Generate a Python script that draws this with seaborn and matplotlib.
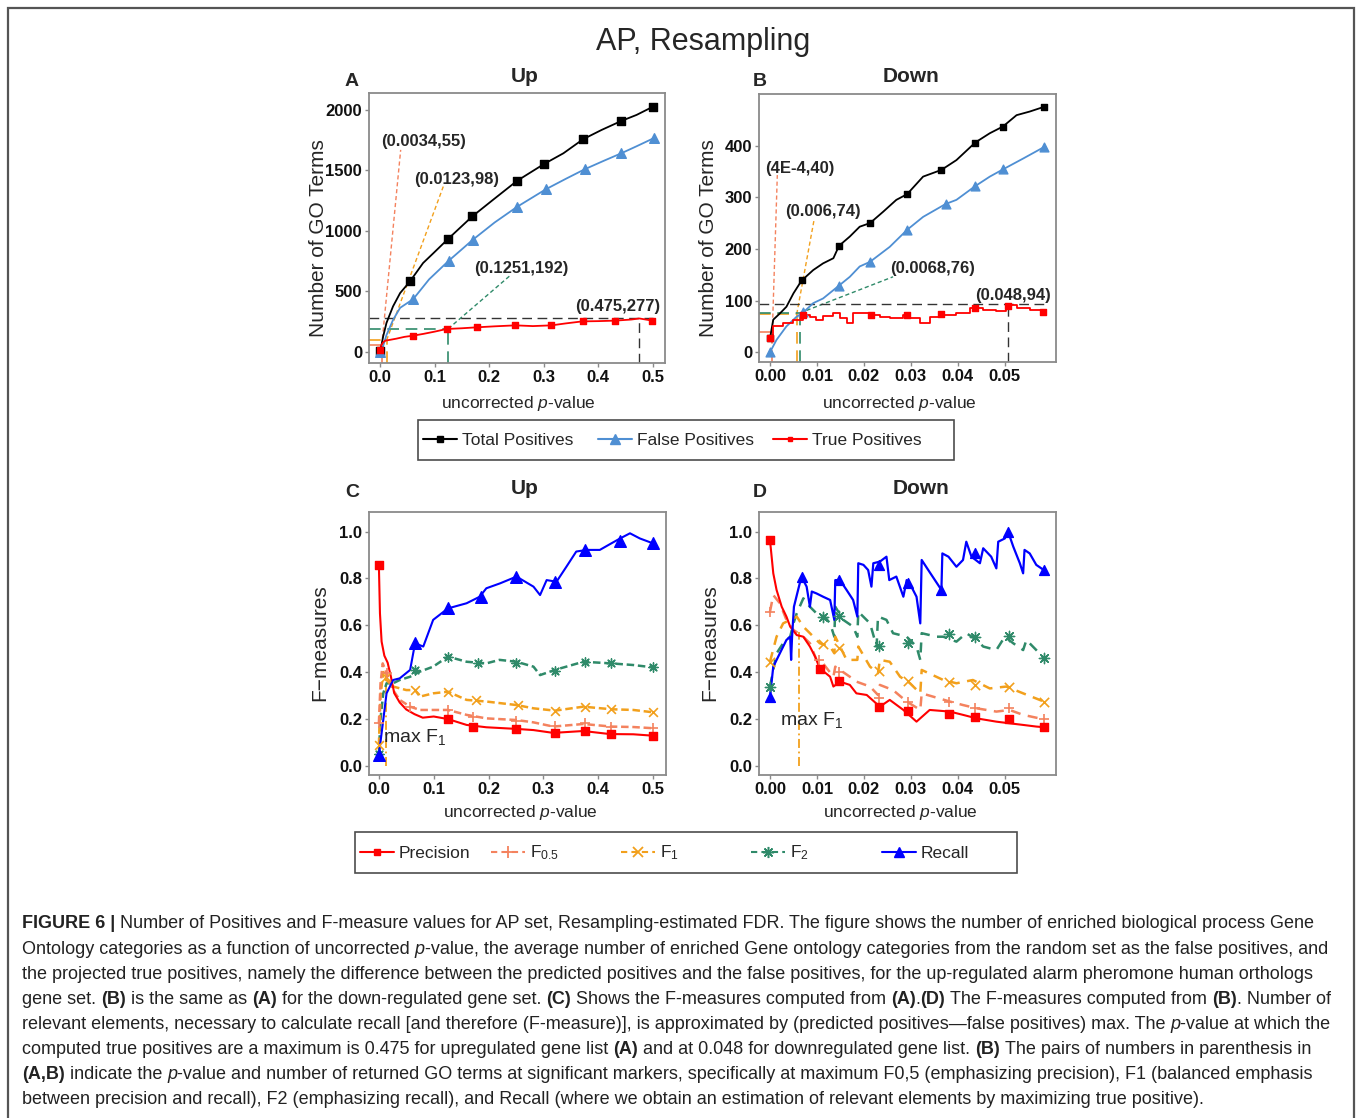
import re
import matplotlib
matplotlib.use("Agg")
import matplotlib.pyplot as plt
from matplotlib import font_manager
from matplotlib.lines import Line2D
from matplotlib.patches import Rectangle
import seaborn as sns

sns.set_theme(style="white")
plt.rcParams["font.family"] = ["Liberation Sans", "DejaVu Sans"]
plt.rcParams["mathtext.fontset"] = "custom"
plt.rcParams["mathtext.rm"] = "Liberation Sans"
plt.rcParams["mathtext.it"] = "Liberation Sans:italic"
plt.rcParams["mathtext.bf"] = "Liberation Sans:bold"

# ------------------------------------------------------------------ data
# Panel A (Up): number of GO terms vs uncorrected p-value
a_total_x = [0.000, 0.003, 0.006, 0.012, 0.024, 0.037, 0.055, 0.079, 0.098, 0.125, 0.169, 0.207,
             0.251, 0.300, 0.336, 0.372, 0.406, 0.442, 0.470, 0.500]
a_total_y = [0, 60, 130, 240, 377, 487, 583, 735, 817, 935, 1120, 1257, 1414, 1552, 1642, 1758,
             1835, 1909, 1959, 2027]
a_total_mx = [0.000, 0.055, 0.125, 0.169, 0.251, 0.300, 0.372, 0.442, 0.500]
a_total_my = [5, 583, 935, 1120, 1414, 1552, 1758, 1909, 2027]

a_fp_x = [0.000, 0.006, 0.012, 0.024, 0.037, 0.061, 0.090, 0.126, 0.170, 0.210, 0.251, 0.304,
          0.340, 0.375, 0.410, 0.442, 0.470, 0.501]
a_fp_y = [0, 50, 140, 265, 365, 437, 600, 754, 927, 1070, 1199, 1345, 1430, 1510, 1580, 1642,
          1700, 1766]
a_fp_mx = [0.000, 0.061, 0.126, 0.170, 0.251, 0.304, 0.375, 0.442, 0.501]
a_fp_my = [0, 437, 754, 927, 1199, 1345, 1510, 1642, 1766]

a_tp_x = [0.000, 0.003, 0.006, 0.010, 0.018, 0.030, 0.045, 0.061, 0.080, 0.100, 0.122, 0.150,
          0.178, 0.210, 0.248, 0.280, 0.314, 0.340, 0.371, 0.400, 0.430, 0.460, 0.475, 0.499]
a_tp_y = [19, 60, 80, 94, 100, 110, 125, 135, 150, 168, 190, 196, 204, 212, 220, 214, 220, 236,
          253, 255, 259, 268, 277, 259]
a_tp_mx = [0.000, 0.061, 0.122, 0.178, 0.248, 0.314, 0.371, 0.430, 0.499]
a_tp_my = [19, 135, 190, 204, 220, 220, 253, 259, 259]

a_ann_x = [0.0034, 0.0123, 0.1251]
a_ann_y = [55, 98, 192]
a_ann_lab = ["(0.0034,55)", "(0.0123,98)", "(0.1251,192)"]
a_ann_txt = [(0.079, 1739), (0.140, 1428), (0.259, 693)]
a_ann_end = [(0.038, 1670), (0.116, 1367), (0.238, 630)]
a_max_x, a_max_y, a_max_lab = 0.475, 277, "(0.475,277)"
a_max_txt = (0.436, 377)

# Panel B (Down)
b_total_x = [0.0000, 0.0007, 0.0021, 0.0035, 0.0050, 0.0064, 0.0069, 0.0092, 0.0113, 0.0135,
             0.0147, 0.0170, 0.0191, 0.0213, 0.0241, 0.0269, 0.0292, 0.0326, 0.0365, 0.0397,
             0.0437, 0.0468, 0.0496, 0.0525, 0.0553, 0.0583]
b_total_y = [27, 63, 75, 88, 114, 134, 140, 159, 172, 182, 206, 224, 243, 250, 272, 295, 306,
             340, 353, 372, 406, 424, 437, 459, 466, 475]
b_total_mx = [0.0000, 0.0069, 0.0147, 0.0213, 0.0292, 0.0365, 0.0437, 0.0496, 0.0583]
b_total_my = [27, 140, 206, 250, 306, 353, 406, 437, 475]

b_fp_x = [0.0000, 0.0014, 0.0035, 0.0057, 0.0071, 0.0092, 0.0113, 0.0147, 0.0170, 0.0191,
          0.0213, 0.0255, 0.0292, 0.0326, 0.0374, 0.0397, 0.0436, 0.0468, 0.0496, 0.0539, 0.0583]
b_fp_y = [0, 24, 50, 69, 77, 95, 104, 129, 146, 166, 175, 204, 237, 262, 287, 295, 321, 340,
          354, 375, 397]
b_fp_mx = [0.0000, 0.0071, 0.0147, 0.0213, 0.0292, 0.0374, 0.0436, 0.0496, 0.0583]
b_fp_my = [0, 77, 129, 175, 237, 287, 321, 354, 397]

b_tp_x = [0.0000, 0.0007, 0.0028, 0.0050, 0.0071, 0.0085, 0.0099, 0.0113, 0.0135, 0.0149,
          0.0163, 0.0177, 0.0213, 0.0234, 0.0255, 0.0284, 0.0298, 0.0319, 0.0340, 0.0369,
          0.0397, 0.0425, 0.0454, 0.0482, 0.0503, 0.0525, 0.0553, 0.0583]
b_tp_y = [28, 50, 56, 63, 72, 69, 63, 70, 75, 66, 56, 75, 72, 69, 66, 72, 66, 56, 69, 72, 75,
          85, 82, 79, 92, 85, 82, 77]
b_tp_mx = [0.0000, 0.0071, 0.0216, 0.0291, 0.0365, 0.0437, 0.0507, 0.0581]
b_tp_my = [28, 72, 72, 72, 74, 85, 90, 77]

b_ann_x = [0.0005, 0.0057, 0.0064]
b_ann_y = [40, 74, 76]
b_ann_lab = ["(4E-4,40)", "(0.006,74)", "(0.0068,76)"]
b_ann_txt = [(0.0064, 356), (0.0113, 272), (0.0347, 163)]
b_ann_end = [(0.00156, 343), (0.0094, 257), (0.0262, 146)]
b_max_x, b_max_y, b_max_lab = 0.0507, 94, "(0.048,94)"
b_max_txt = (0.0518, 109)

# Panel C (Up): F-measures
c_prec_x = [0.000, 0.002, 0.005, 0.010, 0.016, 0.022, 0.028, 0.038, 0.050, 0.065, 0.080, 0.100,
            0.126, 0.160, 0.196, 0.251, 0.282, 0.318, 0.373, 0.421, 0.464, 0.500]
c_prec_y = [0.858, 0.650, 0.530, 0.470, 0.440, 0.380, 0.310, 0.270, 0.240, 0.220, 0.205, 0.210,
            0.199, 0.174, 0.164, 0.157, 0.152, 0.140, 0.148, 0.135, 0.134, 0.128]
c_prec_mx = [0.000, 0.126, 0.172, 0.251, 0.321, 0.376, 0.424, 0.500]
c_prec_my = [0.858, 0.199, 0.164, 0.157, 0.138, 0.150, 0.135, 0.128]

c_f05_x = [0.000, 0.003, 0.007, 0.014, 0.026, 0.038, 0.057, 0.075, 0.099, 0.126, 0.160, 0.196,
           0.251, 0.282, 0.318, 0.373, 0.424, 0.464, 0.500]
c_f05_y = [0.181, 0.350, 0.437, 0.395, 0.323, 0.281, 0.252, 0.238, 0.238, 0.238, 0.217, 0.202,
           0.195, 0.185, 0.167, 0.178, 0.167, 0.165, 0.160]
c_f05_mx = [0.000, 0.014, 0.057, 0.126, 0.172, 0.251, 0.321, 0.376, 0.424, 0.500]
c_f05_my = [0.181, 0.395, 0.252, 0.238, 0.207, 0.192, 0.170, 0.181, 0.167, 0.160]

c_f1_x = [0.000, 0.003, 0.008, 0.014, 0.026, 0.050, 0.066, 0.075, 0.099, 0.126, 0.160, 0.196,
          0.251, 0.282, 0.321, 0.373, 0.424, 0.464, 0.500]
c_f1_y = [0.088, 0.300, 0.400, 0.366, 0.338, 0.323, 0.323, 0.295, 0.309, 0.316, 0.281, 0.274,
          0.259, 0.245, 0.235, 0.252, 0.241, 0.238, 0.228]
c_f1_mx = [0.000, 0.013, 0.066, 0.126, 0.178, 0.254, 0.321, 0.376, 0.424, 0.500]
c_f1_my = [0.088, 0.380, 0.323, 0.313, 0.279, 0.259, 0.234, 0.252, 0.241, 0.228]

c_f2_x = [0.000, 0.003, 0.008, 0.014, 0.026, 0.038, 0.057, 0.075, 0.099, 0.126, 0.160, 0.196,
          0.220, 0.251, 0.282, 0.294, 0.321, 0.373, 0.424, 0.464, 0.500]
c_f2_y = [0.050, 0.200, 0.309, 0.352, 0.352, 0.366, 0.380, 0.402, 0.423, 0.466, 0.444, 0.437,
          0.452, 0.444, 0.423, 0.387, 0.409, 0.444, 0.437, 0.430, 0.420]
c_f2_mx = [0.000, 0.066, 0.126, 0.181, 0.251, 0.321, 0.376, 0.424, 0.500]
c_f2_my = [0.050, 0.410, 0.466, 0.440, 0.440, 0.406, 0.444, 0.437, 0.420]

c_rec_x = [0.000, 0.008, 0.014, 0.026, 0.038, 0.057, 0.066, 0.081, 0.099, 0.126, 0.160, 0.184,
           0.196, 0.221, 0.251, 0.282, 0.294, 0.306, 0.324, 0.342, 0.360, 0.379, 0.403, 0.424,
           0.440, 0.458, 0.476, 0.500]
c_rec_y = [0.046, 0.195, 0.309, 0.366, 0.373, 0.409, 0.523, 0.509, 0.623, 0.672, 0.694, 0.722,
           0.758, 0.779, 0.808, 0.765, 0.729, 0.793, 0.786, 0.850, 0.915, 0.922, 0.922, 0.950,
           0.971, 0.993, 0.971, 0.950]
c_rec_mx = [0.000, 0.066, 0.126, 0.187, 0.251, 0.321, 0.376, 0.440, 0.500]
c_rec_my = [0.046, 0.523, 0.672, 0.722, 0.808, 0.786, 0.922, 0.960, 0.950]
c_maxf1_x, c_maxf1_y = 0.0123, 0.40

# Panel D (Down): F-measures
d_prec_x = [0.0000, 0.0007, 0.0014, 0.0025, 0.0035, 0.0043, 0.0057, 0.0071, 0.0085, 0.0096,
            0.0106, 0.0128, 0.0135, 0.0149, 0.0170, 0.0184, 0.0206, 0.0234, 0.0255, 0.0284,
            0.0312, 0.0340, 0.0383, 0.0411, 0.0440, 0.0482, 0.0510, 0.0539, 0.0567, 0.0585]
d_prec_y = [0.964, 0.822, 0.751, 0.679, 0.637, 0.594, 0.558, 0.551, 0.509, 0.466, 0.416, 0.380,
            0.338, 0.359, 0.345, 0.309, 0.302, 0.252, 0.281, 0.238, 0.188, 0.238, 0.231, 0.217,
            0.202, 0.188, 0.181, 0.174, 0.167, 0.164]
d_prec_mx = [0.0000, 0.0106, 0.0147, 0.0233, 0.0294, 0.0381, 0.0437, 0.0509, 0.0583]
d_prec_my = [0.964, 0.412, 0.362, 0.249, 0.235, 0.221, 0.209, 0.199, 0.164]

d_f05_x = [0.0000, 0.0007, 0.0021, 0.0035, 0.0050, 0.0071, 0.0085, 0.0099, 0.0113, 0.0135,
           0.0139, 0.0170, 0.0184, 0.0213, 0.0230, 0.0234, 0.0262, 0.0291, 0.0320, 0.0323,
           0.0383, 0.0411, 0.0440, 0.0482, 0.0510, 0.0539, 0.0583]
d_f05_y = [0.658, 0.729, 0.694, 0.623, 0.580, 0.551, 0.523, 0.452, 0.437, 0.380, 0.423, 0.380,
           0.359, 0.338, 0.302, 0.345, 0.323, 0.274, 0.238, 0.309, 0.274, 0.259, 0.245, 0.231,
           0.238, 0.217, 0.198]
d_f05_mx = [0.0000, 0.0105, 0.0147, 0.0233, 0.0294, 0.0381, 0.0437, 0.0509, 0.0583]
d_f05_my = [0.658, 0.452, 0.402, 0.288, 0.274, 0.274, 0.245, 0.245, 0.198]

d_f1_x = [0.0000, 0.0014, 0.0028, 0.0043, 0.0057, 0.0071, 0.0085, 0.0106, 0.0128, 0.0137,
          0.0139, 0.0163, 0.0186, 0.0188, 0.0213, 0.0230, 0.0234, 0.0255, 0.0277, 0.0298,
          0.0320, 0.0323, 0.0369, 0.0397, 0.0432, 0.0468, 0.0503, 0.0539, 0.0583]
d_f1_y = [0.444, 0.551, 0.608, 0.623, 0.637, 0.594, 0.566, 0.523, 0.509, 0.480, 0.551, 0.452,
          0.452, 0.509, 0.423, 0.395, 0.452, 0.444, 0.380, 0.352, 0.309, 0.409, 0.366, 0.352,
          0.366, 0.330, 0.338, 0.309, 0.274]
d_f1_mx = [0.0000, 0.0112, 0.0147, 0.0233, 0.0294, 0.0381, 0.0437, 0.0509, 0.0583]
d_f1_my = [0.444, 0.520, 0.501, 0.406, 0.362, 0.359, 0.345, 0.338, 0.274]

d_f2_x = [0.0000, 0.0014, 0.0028, 0.0043, 0.0050, 0.0057, 0.0071, 0.0085, 0.0099, 0.0113,
          0.0128, 0.0137, 0.0139, 0.0156, 0.0177, 0.0186, 0.0188, 0.0213, 0.0227, 0.0230,
          0.0248, 0.0262, 0.0291, 0.0312, 0.0320, 0.0323, 0.0355, 0.0369, 0.0397, 0.0418,
          0.0440, 0.0454, 0.0482, 0.0500, 0.0518, 0.0539, 0.0546, 0.0567, 0.0583]
d_f2_y = [0.338, 0.480, 0.523, 0.551, 0.608, 0.651, 0.715, 0.679, 0.651, 0.644, 0.608, 0.551,
          0.679, 0.623, 0.594, 0.551, 0.658, 0.608, 0.509, 0.637, 0.623, 0.566, 0.551, 0.509,
          0.452, 0.566, 0.551, 0.551, 0.530, 0.566, 0.538, 0.509, 0.494, 0.551, 0.523, 0.494,
          0.537, 0.494, 0.459]
d_f2_mx = [0.0000, 0.0113, 0.0147, 0.0233, 0.0294, 0.0381, 0.0437, 0.0509, 0.0583]
d_f2_my = [0.338, 0.634, 0.640, 0.511, 0.526, 0.563, 0.551, 0.556, 0.459]

d_rec_x = [0.0000, 0.0007, 0.0021, 0.0035, 0.0043, 0.0045, 0.0047, 0.0051, 0.0058, 0.0067,
           0.0078, 0.0085, 0.0089, 0.0099, 0.0113, 0.0128, 0.0137, 0.0139, 0.0149, 0.0163,
           0.0177, 0.0186, 0.0188, 0.0199, 0.0209, 0.0216, 0.0220, 0.0234, 0.0248, 0.0254,
           0.0269, 0.0284, 0.0291, 0.0301, 0.0312, 0.0320, 0.0323, 0.0337, 0.0365, 0.0367,
           0.0380, 0.0397, 0.0411, 0.0418, 0.0429, 0.0447, 0.0454, 0.0471, 0.0482, 0.0486,
           0.0500, 0.0507, 0.0518, 0.0532, 0.0539, 0.0542, 0.0553, 0.0567, 0.0583]
d_rec_y = [0.295, 0.423, 0.480, 0.537, 0.551, 0.452, 0.551, 0.679, 0.736, 0.808, 0.765, 0.679,
           0.744, 0.736, 0.722, 0.708, 0.623, 0.793, 0.793, 0.751, 0.708, 0.637, 0.865, 0.858,
           0.836, 0.765, 0.865, 0.872, 0.893, 0.793, 0.808, 0.722, 0.793, 0.765, 0.722, 0.608,
           0.879, 0.836, 0.751, 0.907, 0.893, 0.850, 0.879, 0.957, 0.893, 0.865, 0.929, 0.893,
           0.843, 0.957, 0.971, 1.000, 0.936, 0.865, 0.822, 0.922, 0.907, 0.858, 0.836]
d_rec_mx = [0.0000, 0.0069, 0.0147, 0.0233, 0.0294, 0.0365, 0.0437, 0.0507, 0.0583]
d_rec_my = [0.295, 0.808, 0.793, 0.858, 0.779, 0.751, 0.907, 1.000, 0.836]
d_maxf1_x, d_maxf1_y = 0.0062, 0.57

caption_lines = [
    "**FIGURE 6 |** Number of Positives and F-measure values for AP set, Resampling-estimated FDR. The figure shows the number of enriched biological process Gene",
    "Ontology categories as a function of uncorrected *p*-value, the average number of enriched Gene ontology categories from the random set as the false positives, and",
    "the projected true positives, namely the difference between the predicted positives and the false positives, for the up-regulated alarm pheromone human orthologs",
    "gene set. **(B)** is the same as **(A)** for the down-regulated gene set. **(C)** Shows the F-measures computed from **(A)**.**(D)** The F-measures computed from **(B)**. Number of",
    "relevant elements, necessary to calculate recall [and therefore (F-measure)], is approximated by (predicted positives\u2014false positives) max. The *p*-value at which the",
    "computed true positives are a maximum is 0.475 for upregulated gene list **(A)** and at 0.048 for downregulated gene list. **(B)** The pairs of numbers in parenthesis in",
    "**(A,B)** indicate the *p*-value and number of returned GO terms at significant markers, specifically at maximum F0,5 (emphasizing precision), F1 (balanced emphasis",
    "between precision and recall), F2 (emphasizing recall), and Recall (where we obtain an estimation of relevant elements by maximizing true positive).",
]

# ------------------------------------------------------------------ style
COL = dict(total="#000000", fp="#4f8fd3", tp="#ff0000", f05="#f4825e",
           f1="#f2a01c", f2="#2f8a69", rec="#0000ff")
ASTER = (8, 2, 0)
W, H = 1358, 1118

fig = plt.figure(figsize=(W / 100, H / 100), dpi=100)
fig.patch.set_facecolor("white")


def box(l, t, r, b):
    return [l / W, 1 - b / H, (r - l) / W, (b - t) / H]


axA = fig.add_axes(box(369, 93, 665, 363))
axB = fig.add_axes(box(759, 94, 1056, 362))
axC = fig.add_axes(box(369, 512, 666, 775))
axD = fig.add_axes(box(759, 512, 1056, 775))


def line(ax, xs, ys, color, lw=1.2, ls="-", z=2, **kw):
    sns.lineplot(x=xs, y=ys, ax=ax, color=color, linewidth=lw, linestyle=ls,
                 estimator=None, sort=False, legend=False, zorder=z, **kw)


def pts(ax, xs, ys, color, marker, s, lw=1.0, z=4):
    kw = dict(edgecolor=color) if marker in ("s", "^") else {}
    sns.scatterplot(x=xs, y=ys, ax=ax, color=color, marker=marker, s=s,
                    linewidth=lw, legend=False, zorder=z, **kw)


def style_axes(ax, xlim, ylim, xt, xtl, yt, ytl):
    ax.set_xlim(*xlim)
    ax.set_ylim(*ylim)
    ax.set_xticks(xt)
    ax.set_xticklabels(xtl, fontsize=12, fontweight="bold")
    ax.set_yticks(yt)
    ax.set_yticklabels(ytl, fontsize=12, fontweight="bold")
    ax.set_xlabel("")
    ax.set_ylabel("")
    ax.grid(False)
    for sp in ax.spines.values():
        sp.set_color("#8a8a8a")
        sp.set_linewidth(1.3)
    ax.tick_params(direction="out", length=3, width=1, color="#8a8a8a", pad=2,
                   bottom=True, left=True, labelcolor="#111111")


LONG = (0, (7, 4))
SHORT = (0, (3, 2))

# ---------------- Panel A
style_axes(axA, (-0.02, 0.522), (-91, 2140),
           [0, 0.1, 0.2, 0.3, 0.4, 0.5], ["0.0", "0.1", "0.2", "0.3", "0.4", "0.5"],
           [0, 500, 1000, 1500, 2000], ["0", "500", "1000", "1500", "2000"])
x0, y0 = axA.get_xlim()[0], axA.get_ylim()[0]
for (ax_, ay_, lab, (tx, ty), (ex, ey), c) in zip(a_ann_x, a_ann_y, a_ann_lab, a_ann_txt,
                                                   a_ann_end, [COL["f05"], COL["f1"], COL["f2"]]):
    axA.plot([x0, ax_], [ay_, ay_], color=c, lw=1.2, ls=LONG, zorder=1)
    axA.plot([ax_, ax_], [y0, ay_], color=c, lw=1.2, ls=LONG, zorder=1)
    axA.plot([ax_, ex], [ay_, ey], color=c, lw=1.0, ls=SHORT, zorder=1)
    axA.text(tx, ty, lab, ha="center", va="center", fontsize=12, fontweight="bold")
axA.plot([x0, a_total_x[-1]], [a_max_y, a_max_y], color="#333333", lw=1.0, ls=LONG, zorder=1)
axA.plot([a_max_x, a_max_x], [y0, a_max_y], color="#333333", lw=1.0, ls=LONG, zorder=1)
axA.text(*a_max_txt, a_max_lab, ha="center", va="center", fontsize=12, fontweight="bold")
line(axA, a_total_x, a_total_y, COL["total"], lw=1.3)
line(axA, a_fp_x, a_fp_y, COL["fp"], lw=1.3)
line(axA, a_tp_x, a_tp_y, COL["tp"], lw=1.3)
pts(axA, a_total_mx, a_total_my, COL["total"], "s", 28)
pts(axA, a_fp_mx, a_fp_my, COL["fp"], "^", 48)
pts(axA, a_tp_mx, a_tp_my, COL["tp"], "s", 13)
axA.set_xlim(-0.02, 0.522)
axA.set_ylim(-91, 2140)

# ---------------- Panel B
style_axes(axB, (-0.00234, 0.0609), (-19, 500),
           [0, 0.01, 0.02, 0.03, 0.04, 0.05], ["0.00", "0.01", "0.02", "0.03", "0.04", "0.05"],
           [0, 100, 200, 300, 400], ["0", "100", "200", "300", "400"])
x0, y0 = axB.get_xlim()[0], axB.get_ylim()[0]
for (ax_, ay_, lab, (tx, ty), (ex, ey), c) in zip(b_ann_x, b_ann_y, b_ann_lab, b_ann_txt,
                                                   b_ann_end, [COL["f05"], COL["f1"], COL["f2"]]):
    axB.plot([x0, ax_], [ay_, ay_], color=c, lw=1.2, ls=LONG, zorder=1)
    axB.plot([ax_, ax_], [y0, ay_], color=c, lw=1.2, ls=LONG, zorder=1)
    axB.plot([ax_, ex], [ay_, ey], color=c, lw=1.0, ls=SHORT, zorder=1)
    axB.text(tx, ty, lab, ha="center", va="center", fontsize=12, fontweight="bold")
axB.plot([x0, b_total_x[-1]], [b_max_y, b_max_y], color="#333333", lw=1.0, ls=LONG, zorder=1)
axB.plot([b_max_x, b_max_x], [y0, b_max_y], color="#333333", lw=1.0, ls=LONG, zorder=1)
axB.text(*b_max_txt, b_max_lab, ha="center", va="center", fontsize=12, fontweight="bold")
line(axB, b_total_x, b_total_y, COL["total"], lw=1.3)
line(axB, b_fp_x, b_fp_y, COL["fp"], lw=1.3)
line(axB, b_tp_x, b_tp_y, COL["tp"], lw=1.3, drawstyle="steps-post")
pts(axB, b_total_mx, b_total_my, COL["total"], "s", 24)
pts(axB, b_fp_mx, b_fp_my, COL["fp"], "^", 40)
pts(axB, b_tp_mx, b_tp_my, COL["tp"], "s", 16)
axB.set_xlim(-0.00234, 0.0609)
axB.set_ylim(-19, 500)

# ---------------- Panel C
style_axes(axC, (-0.018, 0.5237), (-0.04, 1.084),
           [0, 0.1, 0.2, 0.3, 0.4, 0.5], ["0.0", "0.1", "0.2", "0.3", "0.4", "0.5"],
           [0, 0.2, 0.4, 0.6, 0.8, 1.0], ["0.0", "0.2", "0.4", "0.6", "0.8", "1.0"])
axC.plot([c_maxf1_x, c_maxf1_x], [0, c_maxf1_y], color=COL["f1"], lw=1.3,
         ls=(0, (5, 2, 1, 2)), zorder=1)
line(axC, c_f2_x, c_f2_y, COL["f2"], lw=1.8, ls=(0, (3, 1.5)))
line(axC, c_f1_x, c_f1_y, COL["f1"], lw=1.8, ls=(0, (3, 1.5)))
line(axC, c_f05_x, c_f05_y, COL["f05"], lw=1.8, ls=(0, (3, 1.5)))
line(axC, c_prec_x, c_prec_y, COL["tp"], lw=1.5)
line(axC, c_rec_x, c_rec_y, COL["rec"], lw=1.5)
pts(axC, c_f2_mx, c_f2_my, COL["f2"], ASTER, 45, lw=1.0)
pts(axC, c_f1_mx, c_f1_my, COL["f1"], "x", 40, lw=1.2)
pts(axC, c_f05_mx, c_f05_my, COL["f05"], "+", 50, lw=1.2)
pts(axC, c_prec_mx, c_prec_my, COL["tp"], "s", 34)
pts(axC, c_rec_mx, c_rec_my, COL["rec"], "^", 70)
axC.text(0.008, 0.121, r"max $\mathregular{F_1}$", fontsize=14, ha="left", va="center")
axC.set_xlim(-0.018, 0.5237)
axC.set_ylim(-0.04, 1.084)

# ---------------- Panel D
style_axes(axD, (-0.00234, 0.0609), (-0.04, 1.084),
           [0, 0.01, 0.02, 0.03, 0.04, 0.05], ["0.00", "0.01", "0.02", "0.03", "0.04", "0.05"],
           [0, 0.2, 0.4, 0.6, 0.8, 1.0], ["0.0", "0.2", "0.4", "0.6", "0.8", "1.0"])
axD.plot([d_maxf1_x, d_maxf1_x], [0, d_maxf1_y], color=COL["f1"], lw=1.3,
         ls=(0, (5, 2, 1, 2)), zorder=1)
line(axD, d_f2_x, d_f2_y, COL["f2"], lw=1.8, ls=(0, (4, 3)))
line(axD, d_f1_x, d_f1_y, COL["f1"], lw=1.8, ls=(0, (4, 3)))
line(axD, d_f05_x, d_f05_y, COL["f05"], lw=1.8, ls=(0, (4, 3)))
line(axD, d_prec_x, d_prec_y, COL["tp"], lw=1.5)
line(axD, d_rec_x, d_rec_y, COL["rec"], lw=1.6)
pts(axD, d_f2_mx, d_f2_my, COL["f2"], ASTER, 55, lw=1.0)
pts(axD, d_f1_mx, d_f1_my, COL["f1"], "x", 45, lw=1.2)
pts(axD, d_f05_mx, d_f05_my, COL["f05"], "+", 60, lw=1.2)
pts(axD, d_prec_mx, d_prec_my, COL["tp"], "s", 34)
pts(axD, d_rec_mx, d_rec_my, COL["rec"], "^", 50)
axD.text(0.0021, 0.195, r"max $\mathregular{F_1}$", fontsize=14, ha="left", va="center")
axD.set_xlim(-0.00234, 0.0609)
axD.set_ylim(-0.04, 1.084)

# ---------------- titles and labels


def ftext(px, py, s, **kw):
    kw.setdefault("ha", "center")
    kw.setdefault("va", "center")
    return fig.text(px / W, 1 - py / H, s, **kw)


ftext(703, 42, "AP, Resampling", fontsize=22)
for (px, py, s) in [(352, 81, "A"), (760, 81, "B"), (352, 493, "C"), (760, 493, "D")]:
    ftext(px, py, s, fontsize=14, fontweight="bold")
for (px, py, s) in [(525, 77, "Up"), (911, 77, "Down"), (525, 489, "Up"), (921, 489, "Down")]:
    ftext(px, py, s, fontsize=15, fontweight="bold")
ftext(319, 238, "Number of GO Terms", fontsize=15, rotation=90)
ftext(709, 238, "Number of GO Terms", fontsize=15, rotation=90)
ftext(320, 643, "F\u2212measures", fontsize=15, rotation=90)
ftext(710, 643, "F\u2212measures", fontsize=15, rotation=90)
xl = r"uncorrected $\mathit{p}$-value"
ftext(518, 404, xl, fontsize=12.5)
ftext(899, 404, xl, fontsize=12.5)
ftext(520, 812, xl, fontsize=12.5)
ftext(900, 812, xl, fontsize=12.5)

# ---------------- legends (one entry each, evenly spaced, inside a frame)
leg1 = [
    (423, Line2D([], [], color=COL["total"], marker="s", ms=5, lw=1.5), "Total Positives"),
    (598, Line2D([], [], color=COL["fp"], marker="^", ms=6.5, lw=1.5), "False Positives"),
    (773, Line2D([], [], color=COL["tp"], marker="s", ms=3.5, lw=1.5), "True Positives"),
]
leg2 = [
    (360, Line2D([], [], color=COL["tp"], marker="s", ms=5, lw=1.5), "Precision"),
    (491, Line2D([], [], color=COL["f05"], marker="+", ms=8, mew=1.3, lw=1.5, ls=(0, (3, 2))),
     r"$\mathregular{F_{0.5}}$"),
    (621, Line2D([], [], color=COL["f1"], marker="x", ms=6.5, mew=1.3, lw=1.5, ls=(0, (3, 2))),
     r"$\mathregular{F_{1}}$"),
    (751, Line2D([], [], color=COL["f2"], marker=ASTER, ms=8, mew=1.1, lw=1.5, ls=(0, (3, 2))),
     r"$\mathregular{F_{2}}$"),
    (882, Line2D([], [], color=COL["rec"], marker="^", ms=6.5, lw=1.5), "Recall"),
]
for entries, yc in [(leg1, 440), (leg2, 853)]:
    for hx, h, lab in entries:
        fig.legend([h], [lab], loc="center left", bbox_to_anchor=(hx / W, 1 - yc / H),
                   frameon=False, borderpad=0, borderaxespad=0, handlelength=1.95,
                   handletextpad=0.3, fontsize=12.5, numpoints=1)
for (l, t, r, b) in [(418, 420, 954, 460), (355, 832, 1017, 873)]:
    fig.add_artist(Rectangle((l / W, 1 - b / H), (r - l) / W, (b - t) / H, fill=False,
                             ec="#4d4d4d", lw=1.2, transform=fig.transFigure))

# outer frame (open at the bottom)
fig.add_artist(Rectangle((8 / W, -0.1), (1354 - 8) / W, 1.1 - 8 / H, fill=False,
                         ec="#555555", lw=1.6, transform=fig.transFigure))

# ---------------- caption
_names = {f.name for f in font_manager.fontManager.ttflist}
cap_family = ["Liberation Sans Narrow", "Liberation Sans", "DejaVu Sans"] \
    if "Liberation Sans Narrow" in _names else ["Liberation Sans", "DejaVu Sans"]
renderer = fig.canvas.get_renderer()
cap_left, cap_right, cap_top, cap_step = 22, 1316, 924, 25.1


def parse(line_txt):
    out = []
    for part in re.split(r"(\*\*[^*]+\*\*|\*[^*]+\*)", line_txt):
        if not part:
            continue
        if part.startswith("**"):
            out.append((part[2:-2], "bold", "normal"))
        elif part.startswith("*"):
            out.append((part[1:-1], "normal", "italic"))
        else:
            out.append((part, "normal", "normal"))
    return out


def measure(s, size):
    t = fig.text(0, 0, s, fontsize=size, family=cap_family)
    w = t.get_window_extent(renderer=renderer).width
    t.remove()
    return w


def draw_caption(size):
    sp = measure("a a", size) - measure("aa", size)
    arts, widths = [], []
    for i, ln in enumerate(caption_lines):
        x = cap_left
        yc = cap_top + i * cap_step
        for text, wt, st in parse(ln):
            core = text.strip(" ")
            x += (len(text) - len(text.lstrip(" "))) * sp
            if core:
                t = fig.text(x / W, 1 - yc / H, core, fontsize=size, fontweight=wt,
                             fontstyle=st, ha="left", va="center", color="#222222",
                             family=cap_family)
                x += t.get_window_extent(renderer=renderer).width
                arts.append(t)
            x += (len(text) - len(text.rstrip(" "))) * sp
        widths.append(x - cap_left)
    return arts, widths


arts, widths = draw_caption(12.0)
for a in arts:
    a.remove()
cap_size = min(15.0, 12.0 * (cap_right - cap_left) / widths[0])
draw_caption(cap_size)

fig.savefig("out.png", dpi=100, facecolor="white")
